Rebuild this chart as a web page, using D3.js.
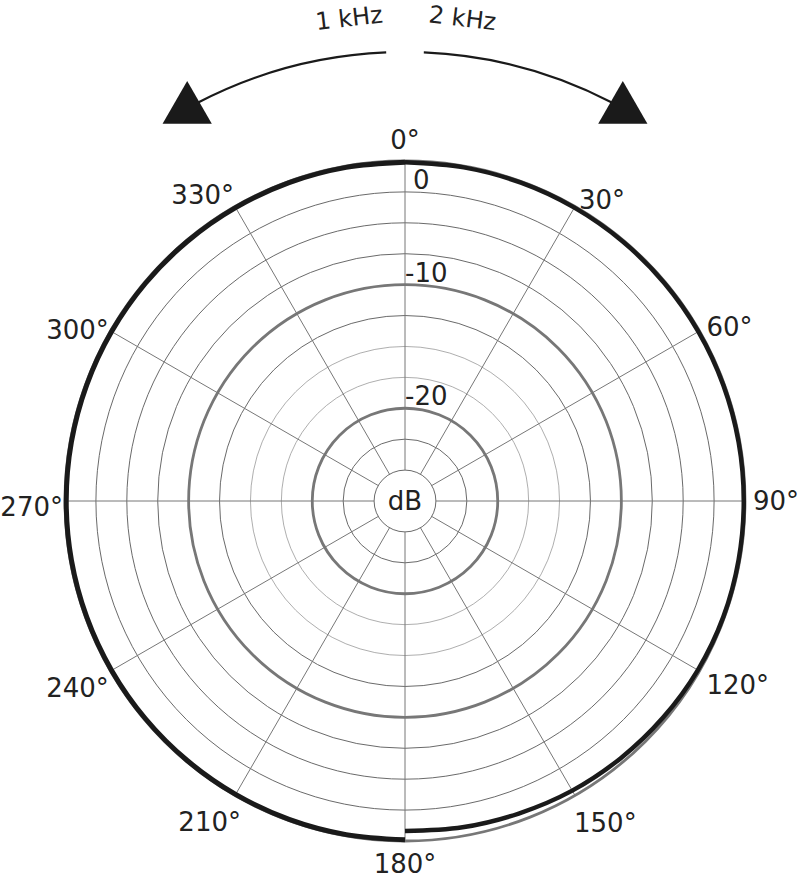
<!DOCTYPE html>
<html>
<head>
<meta charset="utf-8">
<script src="https://cdn.jsdelivr.net/npm/d3@7"></script>
<style>
  body { margin: 0; background: #fff; }
  text { font-family: "DejaVu Sans", "Noto Sans", sans-serif; fill: #222; }
</style>
</head>
<body>
<div id="chart"></div>
<script>
// polar response, left half 1 kHz, right half 2 kHz
const angles2k = [0, 10, 20, 30, 40, 50, 60, 70, 80, 90, 100, 110, 120, 130, 140, 150, 160, 170, 180];
const values2k = [-0.1, -0.1, -0.1, -0.1, -0.1, -0.1, -0.1, -0.1, -0.1, -0.1, -0.1, -0.1, -0.15, -0.25, -0.35, -0.45, -0.6, -0.7, -0.8];
const angles1k = [180, 190, 200, 210, 220, 230, 240, 250, 260, 270, 280, 290, 300, 310, 320, 330, 340, 350, 360];
const values1k = [-0.1, -0.1, -0.1, -0.1, -0.1, -0.1, -0.1, -0.1, -0.1, -0.1, -0.1, -0.1, -0.1, -0.1, -0.1, -0.1, -0.1, -0.1, -0.1];

const ringLevels = [-25, -22.5, -20, -17.5, -15, -12.5, -10, -7.5, -5, -2.5, 0];
const majorRings = [-20, -10];
const faintRings = [-17.5, -15];
const dbLabels = ["0", "-10", "-20"];
const dbLabelLevels = [-2.5, -10, -20];
const spokeAngles = [0, 30, 60, 90, 120, 150, 180, 210, 240, 270, 300, 330];
const freqLabels = ["1 kHz", "2 kHz"];

const width = 800, height = 880;
const cx = 405, cy = 501;

const svg = d3.select("#chart").append("svg")
    .attr("width", width).attr("height", height);
const g = svg.append("g").attr("transform", `translate(${cx},${cy})`);

const r = d3.scaleLinear().domain([-27.5, 0]).range([0, 340]);
const rad = d => d * Math.PI / 180;

// rings
g.selectAll("circle.ring").data(ringLevels).enter().append("circle")
    .attr("class", "ring")
    .attr("r", d => r(d))
    .attr("fill", "none")
    .attr("stroke", d => (majorRings.includes(d) || d === 0) ? "#777" : (faintRings.includes(d) ? "#999" : "#6a6a6a"))
    .attr("stroke-width", d => (majorRings.includes(d) || d === 0) ? 2.8 : (faintRings.includes(d) ? 0.8 : 1));

// spokes
g.selectAll("line.spoke").data(spokeAngles).enter().append("line")
    .attr("class", "spoke")
    .attr("x1", d => r(-25) * Math.sin(rad(d)))
    .attr("y1", d => -r(-25) * Math.cos(rad(d)))
    .attr("x2", d => r(0) * Math.sin(rad(d)))
    .attr("y2", d => -r(0) * Math.cos(rad(d)))
    .attr("stroke", "#777")
    .attr("stroke-width", 1);

// curves
const line = d3.lineRadial()
    .angle(d => rad(d[0]))
    .radius(d => r(d[1]))
    .curve(d3.curveCardinal);

g.append("path")
    .datum(d3.zip(angles2k, values2k))
    .attr("d", line)
    .attr("fill", "none")
    .attr("stroke", "#1a1a1a")
    .attr("stroke-width", 4.5);

g.append("path")
    .datum(d3.zip(angles1k, values1k))
    .attr("d", line)
    .attr("fill", "none")
    .attr("stroke", "#1a1a1a")
    .attr("stroke-width", 5);

// angle labels
function labelPos(a) {
    const s = Math.sin(rad(a)), c = Math.cos(rad(a));
    if (Math.abs(s) < 0.01) {
        return [0, c > 0 ? -361 : 363, "middle"];
    }
    const R = s > 0 ? (c < -0.6 ? 338 : 348) : (c < -0.6 ? 328 : 342);
    let y = -R * c;
    if (c < 0) y += -c * 20 + (c < -0.6 ? 12 : 0);
    if (s < 0 && c < 0) y += c < -0.6 ? 8 : 6;
    if (s < 0 && c > 0.6) y -= 10;
    return [R * s, y, s > 0 ? "start" : "end"];
}

g.selectAll("text.ang").data(spokeAngles).enter().append("text")
    .attr("class", "ang")
    .attr("x", d => labelPos(d)[0])
    .attr("y", d => labelPos(d)[1])
    .attr("dy", "0.35em")
    .attr("text-anchor", d => labelPos(d)[2])
    .attr("font-size", 26)
    .text(d => d + "°");

// dB labels
g.selectAll("text.db").data(dbLabels).enter().append("text")
    .attr("class", "db")
    .attr("x", (d, i) => i === 0 ? 8 : 0)
    .attr("y", (d, i) => -r(dbLabelLevels[i]) - 3)
    .attr("font-size", 26)
    .text(d => d);

g.append("text")
    .attr("x", 0).attr("y", 0).attr("dy", "0.35em")
    .attr("text-anchor", "middle")
    .attr("font-size", 26)
    .text("dB");

// frequency arcs with arrowheads
const arcR = 449;
const arcs = [[-2.4, -27.5], [2.4, 27.5]];
const arcGen = d3.arc().innerRadius(arcR).outerRadius(arcR);
arcs.forEach(a => {
    g.append("path")
        .attr("d", arcGen({startAngle: rad(Math.min(a[0], a[1])), endAngle: rad(Math.max(a[0], a[1]))}))
        .attr("fill", "none")
        .attr("stroke", "#1a1a1a")
        .attr("stroke-width", 2.2);
    const tx = 455 * Math.sin(rad(a[1] * 1.04));
    const ty = -455 * Math.cos(rad(a[1] * 1.04));
    g.append("path")
        .attr("d", d3.symbol().type(d3.symbolTriangle).size(1050))
        .attr("transform", `translate(${tx},${ty + 8})`)
        .attr("fill", "#1a1a1a");
});

freqLabels.forEach((t, i) => {
    const ang = i === 0 ? -6.6 : 6.8;
    g.append("text")
        .attr("transform", `rotate(${ang}) translate(0,${-478})`)
        .attr("text-anchor", "middle")
        .attr("font-size", 24)
        .text(t);
});
</script>
</body>
</html>
